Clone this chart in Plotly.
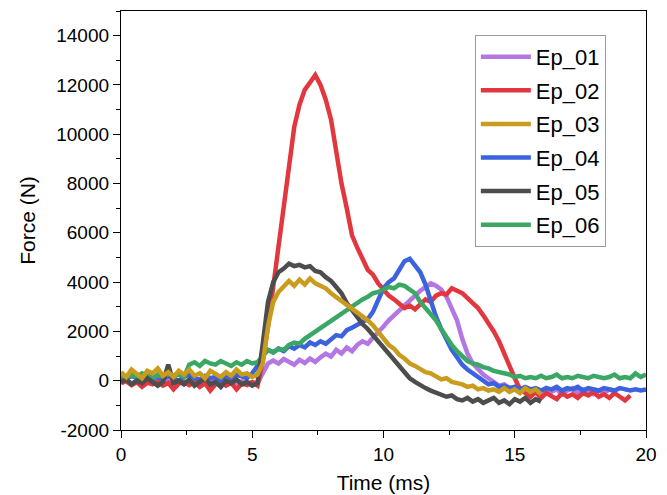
import plotly.graph_objects as go

time_ms = [0.0, 0.2, 0.4, 0.6, 0.8, 1.0, 1.2, 1.4, 1.6, 1.8, 2.0, 2.2, 2.4, 2.6, 2.8, 3.0, 3.2, 3.4, 3.6, 3.8,
           4.0, 4.2, 4.4, 4.6, 4.8, 5.0, 5.2, 5.4, 5.6, 5.8, 6.0, 6.2, 6.4, 6.6, 6.8, 7.0, 7.2, 7.4, 7.6, 7.8,
           8.0, 8.2, 8.4, 8.6, 8.8, 9.0, 9.2, 9.4, 9.6, 9.8, 10.0, 10.2, 10.4, 10.6, 10.8, 11.0, 11.2, 11.4, 11.6, 11.8,
           12.0, 12.2, 12.4, 12.6, 12.8, 13.0, 13.2, 13.4, 13.6, 13.8, 14.0, 14.2, 14.4, 14.6, 14.8, 15.0, 15.2, 15.4, 15.6, 15.8,
           16.0, 16.2, 16.4, 16.6, 16.8, 17.0, 17.2, 17.4, 17.6, 17.8, 18.0, 18.2, 18.4, 18.6, 18.8, 19.0, 19.2, 19.4, 19.6, 19.8,
           20.0]

ep_01 = [-50, 30, -110, -40, 50, -90, -20, -140, -30, 40, -80, -10, -130, -50, 30, -100, 20, -70, 10, -120,
         -40, 40, -90, -20, -130, -60, -100, 350, 700, 820, 700, 880, 760, 650, 850, 720, 900, 760, 950, 1100,
         980, 1250, 1100, 1350, 1200, 1450, 1600, 1500, 1750, 1950, 2200, 2450, 2650, 2900, 3100, 3300, 3450, 3650, 3800, 3950,
         3850, 3700, 3400, 2900, 2450, 1700, 1100, 700, 450, 250, 100, -50, -200, -150, -300, -250, -400, -300, -450, -350,
         -500, -300, -450, -350, -550, -400, -300, -500, -350, -450, -550, -400, -500, -350, -450]

ep_02 = [-100, -20, -180, -60, -250, -80, -150, -30, -200, -90, -350, -120, -50, -180, -70, -250, -100, -400, -150, -60,
         -200, -90, -350, -120, -180, -60, -200, 800, 2200, 3800, 5200, 7000, 8700, 10300, 11200, 11800, 12100, 12400, 12000, 11400,
         10600, 9300, 8000, 7000, 5900, 5400, 4900, 4500, 4300, 3950, 3700, 3450, 3300, 3100, 2950, 3050, 2900, 3100, 3300, 3200,
         3450, 3550, 3500, 3750, 3650, 3550, 3350, 3150, 2950, 2650, 2350, 2000, 1600, 1150, 600, 100, -350, -500, -650, -450,
         -700, -500, -600, -750, -500, -650, -550, -700, -500, -600, -450, -650, -550, -700, -500, -650, -800, -600]

ep_03 = [350, 150, 450, 250, 100, 400, 300, 500, 200, 350, 150, 400, 250, 450, 200, 300, 100, 400, 250, 150,
         350, 200, 450, 250, 300, 150, 250, 700, 2200, 3200, 3600, 3800, 4050, 3850, 4100, 3900, 4150, 3950, 3850, 3750,
         3550, 3400, 3200, 3100, 2900, 2800, 2600, 2450, 2250, 2000, 1700, 1450, 1300, 1050, 900, 700, 600, 450, 350, 300,
         200, 50, 100, -50, -100, -150, -250, -200, -350, -300, -400, -350, -450, -300, -450, -350, -500, -300, -450, -350,
         -550]

ep_04 = [150, 50, 200, 100, 0, 250, 100, 150, 50, 200, 100, 0, 150, 250, 100, 50, 200, 100, 150, 0,
         200, 100, 250, 150, 100, 300, 600, 1000, 1250, 1150, 1300, 1200, 1400, 1300, 1450, 1350, 1550, 1450, 1600, 1500,
         1700, 1850, 1800, 2050, 2150, 2250, 2400, 2500, 2800, 3300, 3750, 4000, 4150, 4500, 4850, 4950, 4700, 4400, 3900, 3200,
         2600, 2100, 1650, 1250, 950, 650, 450, 300, 100, -50, -150, -100, -250, -200, -300, -250, -350, -250, -350, -300,
         -400, -300, -350, -250, -400, -300, -350, -250, -400, -300, -350, -400, -300, -350, -400, -300, -350, -400, -350, -400,
         -350]

ep_05 = [-50, 50, -150, 0, -100, 100, -50, -200, -50, 650, -100, 0, -150, 50, -200, -50, 100, -150, -50, -250,
         0, -100, 50, -150, -50, -200, -100, 1500, 3200, 4000, 4400, 4550, 4750, 4650, 4700, 4600, 4650, 4450, 4400, 4200,
         4050, 3800, 3550, 3150, 2850, 2600, 2300, 2100, 1850, 1550, 1300, 1050, 800, 600, 350, 100, -50, -200, -300, -400,
         -500, -550, -650, -600, -750, -800, -700, -850, -750, -900, -800, -700, -900, -800, -950, -750, -850, -700, -900, -750,
         -850]

ep_06 = [200, 100, 250, 150, 300, 200, 100, 250, 150, 300, 200, 250, 150, 650, 750, 600, 800, 700, 650, 800,
         700, 600, 750, 650, 800, 700, 750, 1000, 1250, 1150, 1300, 1250, 1450, 1550, 1500, 1700, 1850, 2000, 2150, 2250,
         2400, 2550, 2700, 2900, 3050, 3200, 3300, 3400, 3550, 3600, 3700, 3800, 3750, 3900, 3850, 3700, 3550, 3200, 2950, 2700,
         2450, 2100, 1750, 1450, 1200, 1000, 800, 700, 650, 550, 500, 400, 350, 300, 250, 150, 200, 100, 150, 100,
         200, 100, 150, 250, 100, 150, 100, 200, 150, 100, 200, 150, 100, 150, 250, 100, 150, 100, 300, 150,
         250]

y_tick_values = [-2000, 0, 2000, 4000, 6000, 8000, 10000, 12000, 14000]
y_tick_labels = ["-2000", "0", "2000", "4000", "6000", "8000", "10000", "12000", "14000"]
x_tick_values = [0, 5, 10, 15, 20]
x_tick_labels = ["0", "5", "10", "15", "20"]

names = ["Ep_01", "Ep_02", "Ep_03", "Ep_04", "Ep_05", "Ep_06"]
colors = {"Ep_01": "#B376E3", "Ep_02": "#E3373F", "Ep_03": "#C99C1E",
          "Ep_04": "#3C63DD", "Ep_05": "#4D4D4D", "Ep_06": "#3AA765"}
series = {"Ep_01": ep_01, "Ep_02": ep_02, "Ep_03": ep_03,
          "Ep_04": ep_04, "Ep_05": ep_05, "Ep_06": ep_06}

draw_order = ["Ep_01", "Ep_02", "Ep_04", "Ep_06", "Ep_05", "Ep_03"]

FONT = "Liberation Sans, Arial, sans-serif"

fig = go.Figure()
for nm in draw_order:
    vals = series[nm]
    fig.add_trace(go.Scatter(
        x=time_ms[:len(vals)], y=vals, mode="lines", name=nm,
        line=dict(color=colors[nm], width=4.5),
        legendrank=names.index(nm) + 1, legendgroup=nm,
    ))

axis_common = dict(
    showline=True, linecolor="black", linewidth=1.3, mirror=True,
    ticks="outside", ticklen=7, tickwidth=1.3, tickcolor="black",
    showgrid=False, zeroline=False, automargin=False,
    tickfont=dict(family=FONT, size=19, color="black"),
)

fig.update_layout(
    width=667, height=495,
    margin=dict(l=121, r=21, t=11, b=65),
    paper_bgcolor="white", plot_bgcolor="white",
    font=dict(family=FONT, color="black"),
    xaxis=dict(range=[0, 20], tickmode="array", tickvals=x_tick_values, ticktext=x_tick_labels,
               minor=dict(dtick=2.5, tick0=0, ticks="outside", ticklen=4, tickwidth=1.3, tickcolor="black"),
               title=dict(text="Time (ms)", font=dict(family=FONT, size=21), standoff=11),
               **axis_common),
    yaxis=dict(range=[-2000, 15000], tickmode="array", tickvals=y_tick_values, ticktext=y_tick_labels,
               minor=dict(dtick=1000, tick0=0, ticks="outside", ticklen=4, tickwidth=1.3, tickcolor="black"),
               title=dict(text="Force (N)", font=dict(family=FONT, size=21), standoff=14),
               **axis_common),
    legend=dict(x=0.674, y=0.943, xanchor="left", yanchor="top",
                bgcolor="white", bordercolor="#9a9a9a", borderwidth=1,
                font=dict(family=FONT, size=22, color="black"),
                tracegroupgap=2, itemwidth=50),
    showlegend=True,
)

fig.write_html("out.html")
